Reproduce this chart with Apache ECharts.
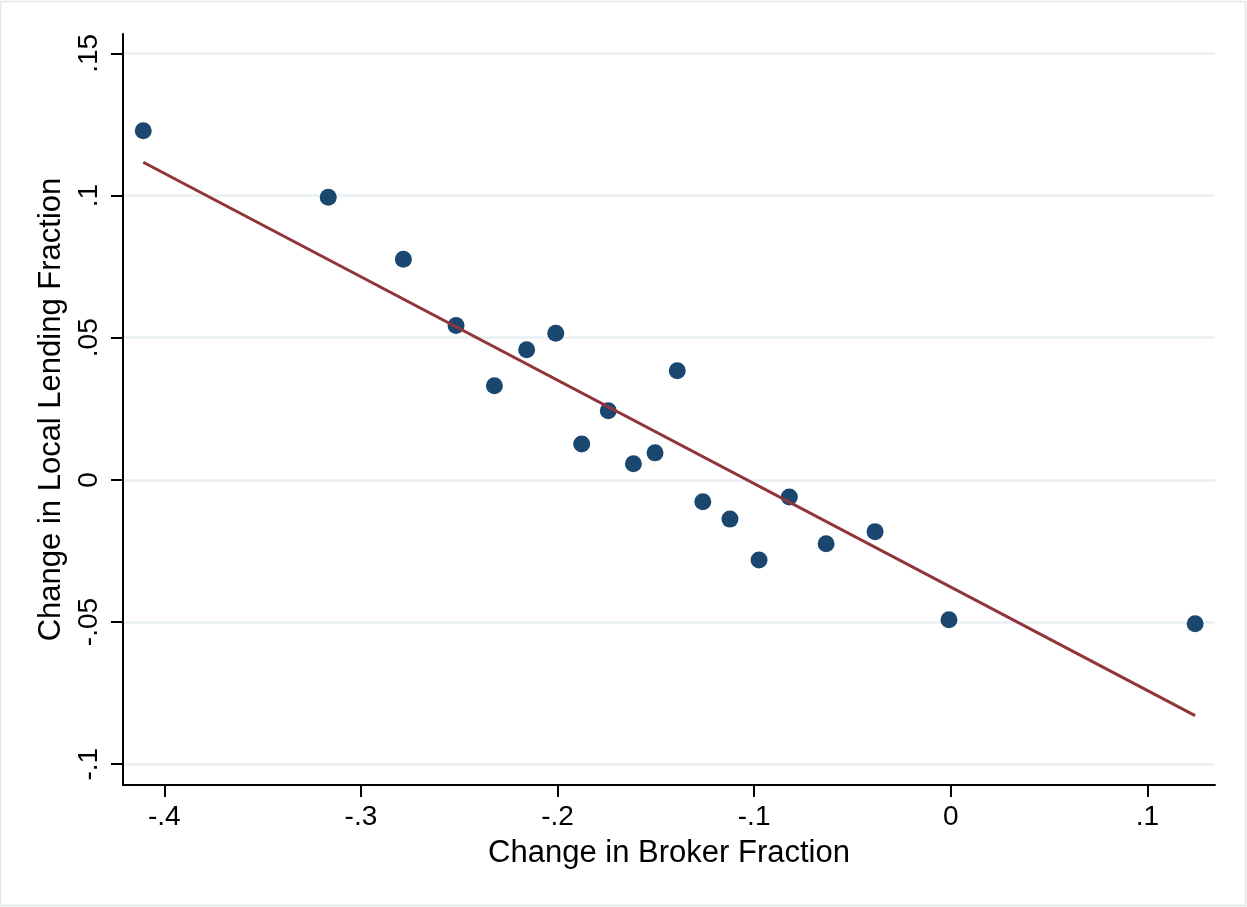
<!DOCTYPE html>
<html>
<head>
<meta charset="utf-8">
<script src="https://cdn.jsdelivr.net/npm/echarts@6/dist/echarts.min.js"></script>
<style>
  html, body { margin: 0; padding: 0; background: #ffffff; }
  #chart { width: 1247px; height: 907px; }
</style>
</head>
<body>
<div id="chart"></div>
<script>
// Change in broker fraction (x) and change in local lending fraction (y), one point per bin
const brokerChange = [
  -0.4107, -0.3166, -0.2784, -0.2516, -0.2321, -0.2157, -0.2009, -0.1877, -0.1742, -0.1614,
  -0.1504, -0.1391, -0.1261, -0.1123, -0.0975, -0.0821, -0.0634, -0.0385, -0.0009, 0.1243
];
const lendingChange = [
  0.1228, 0.0994, 0.0776, 0.0543, 0.0331, 0.0458, 0.0516, 0.0126, 0.0243, 0.0057,
  0.0095, 0.0384, -0.0077, -0.0138, -0.0282, -0.0060, -0.0225, -0.0182, -0.0492, -0.0506
];

// Linear fit, evaluated at the ends of the data range
const fitX = [-0.4107, 0.1243];
const fitY = [0.1117, -0.0829];

// Axis ticks and their labels
const xTicks = [-0.4, -0.3, -0.2, -0.1, 0, 0.1];
const xTickLabels = ['-.4', '-.3', '-.2', '-.1', '0', '.1'];
const yTicks = [-0.1, -0.05, 0, 0.05, 0.1, 0.15];
const yTickLabels = ['-.1', '-.05', '0', '.05', '.1', '.15'];

const xTitle = 'Change in Broker Fraction';
const yTitle = 'Change in Local Lending Fraction';

function tickText(ticks, labels) {
  return function (v) {
    for (let i = 0; i < ticks.length; i++) {
      if (Math.abs(ticks[i] - v) < 1e-9) return labels[i];
    }
    return '';
  };
}

const FONT = '"Liberation Sans", Arial, Helvetica, sans-serif';
const points = brokerChange.map((x, i) => [x, lendingChange[i]]);
const fitLine = fitX.map((x, i) => [x, fitY[i]]);

const chart = echarts.init(document.getElementById('chart'), null, { renderer: 'canvas' });

chart.setOption({
  animation: false,
  backgroundColor: '#ffffff',
  graphic: [{
    type: 'rect',
    shape: { x: 0.5, y: 1.5, width: 1245, height: 904 },
    style: { fill: 'none', stroke: '#dfe7ea', lineWidth: 1.5 },
    silent: true
  }],
  grid: { left: 123, right: 32, top: 34, bottom: 122, containLabel: false },
  xAxis: {
    type: 'value',
    min: -0.421,
    max: 0.1344,
    name: xTitle,
    nameLocation: 'middle',
    nameGap: 53,
    nameTextStyle: { fontFamily: FONT, fontSize: 31, color: '#000' },
    axisLine: { show: true, onZero: false, lineStyle: { color: '#000', width: 2 } },
    axisTick: { show: true, inside: false, length: 12, customValues: xTicks,
                lineStyle: { color: '#000', width: 2 } },
    axisLabel: { customValues: xTicks, formatter: tickText(xTicks, xTickLabels),
                 fontFamily: FONT, fontSize: 28, color: '#000', margin: 18 },
    splitLine: { show: false }
  },
  yAxis: {
    type: 'value',
    min: -0.1073,
    max: 0.1568,
    name: yTitle,
    nameLocation: 'middle',
    nameGap: 52,
    nameTextStyle: { fontFamily: FONT, fontSize: 31, color: '#000' },
    axisLine: { show: true, onZero: false, lineStyle: { color: '#000', width: 2 } },
    axisTick: { show: true, inside: false, length: 12, customValues: yTicks,
                lineStyle: { color: '#000', width: 2 } },
    axisLabel: { customValues: yTicks, formatter: tickText(yTicks, yTickLabels),
                 rotate: 90, fontFamily: FONT, fontSize: 28, color: '#000', margin: 20 },
    splitLine: { show: true, lineStyle: { color: '#e9f0f2', width: 2.5 } }
  },
  series: [
    {
      type: 'scatter',
      data: points,
      symbol: 'circle',
      symbolSize: 17,
      itemStyle: { color: '#1a476f', opacity: 1 },
      z: 2
    },
    {
      type: 'line',
      data: fitLine,
      symbol: 'none',
      lineStyle: { color: '#90353b', width: 3 },
      z: 3
    }
  ]
});
</script>
</body>
</html>
